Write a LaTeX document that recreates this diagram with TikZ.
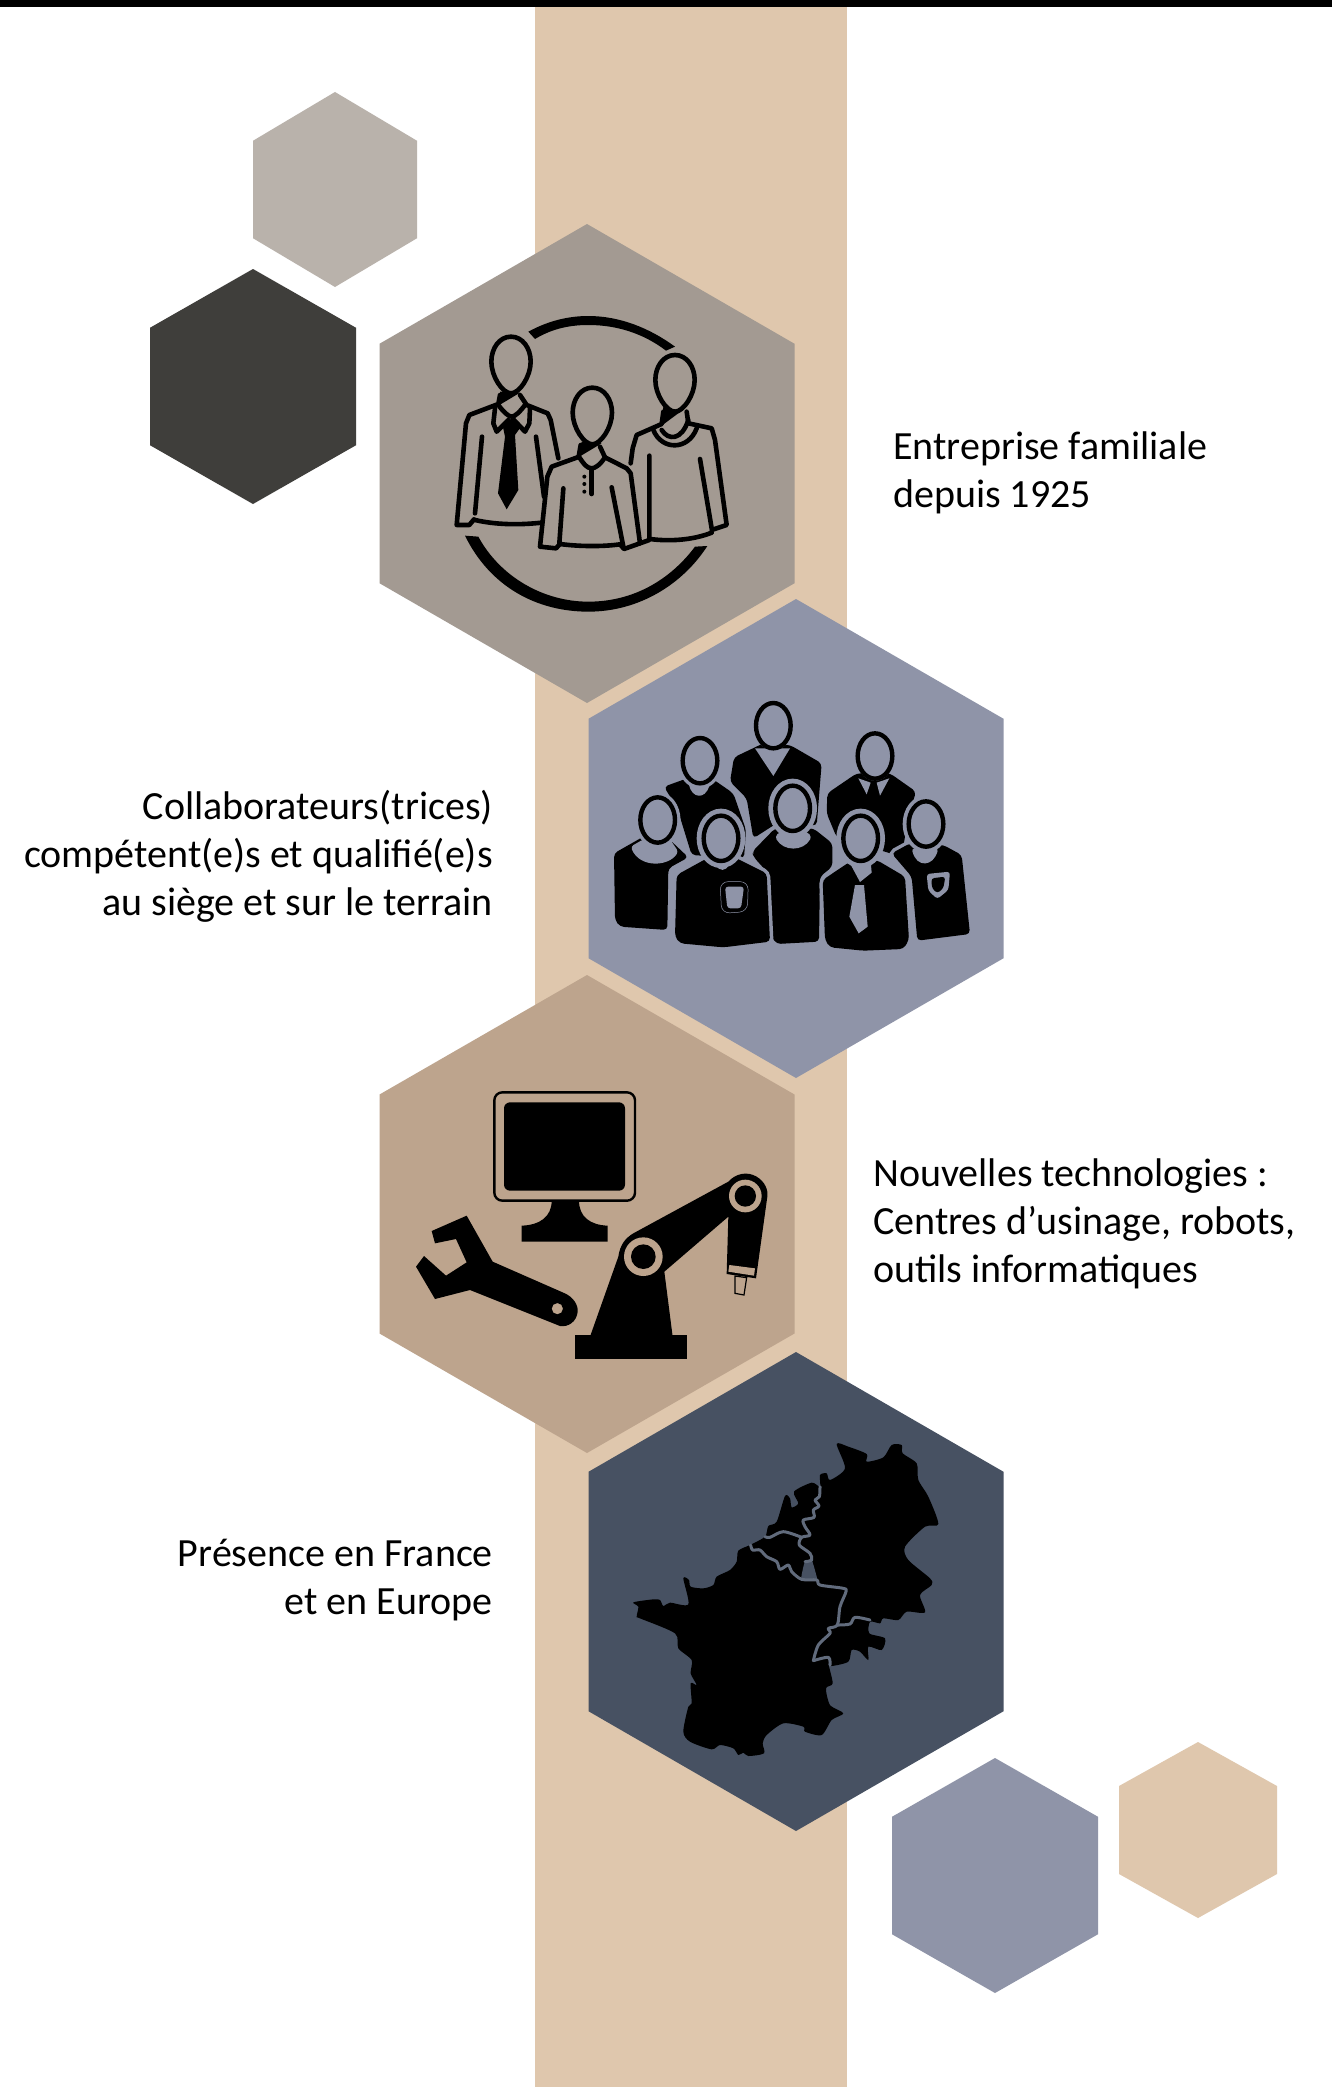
\documentclass[tikz,border=0pt]{standalone}
\usepackage{fontspec}
\setmainfont{Carlito}
\definecolor{barc}{HTML}{DFC7AD}
\definecolor{hexa}{HTML}{A39A92}
\definecolor{hexb}{HTML}{8F94A8}
\definecolor{hexc}{HTML}{BDA48D}
\definecolor{hexd}{HTML}{475162}
\definecolor{hexe}{HTML}{B9B2AB}
\definecolor{hexf}{HTML}{3F3E3B}
\definecolor{mapline}{HTML}{616B7C}
\newcommand{\hexshape}[5]{% cx, top, bottom, halfwidth, colour
  \fill[#5] (#1,#2) -- ({#1+#4},{#2+(#3-#2)/4}) -- ({#1+#4},{#3-(#3-#2)/4}) -- (#1,#3)
    -- ({#1-#4},{#3-(#3-#2)/4}) -- ({#1-#4},{#2+(#3-#2)/4}) -- cycle;}
\newcommand{\egghead}[2]{%
  \draw[outl,fill=hexa,shift={(#1,#2)}] (0,-85) .. controls (35,-85) and (59,-50) .. (59,-10)
    .. controls (59,35) and (25,85) .. (0,85) .. controls (-25,85) and (-59,35) .. (-59,-10)
    .. controls (-59,-50) and (-35,-85) .. (0,-85) -- cycle;}
\newcommand{\ovalhead}[3]{% cx cy halo
  \draw[hexb,line width=#3pt] (#1,#2) ellipse [x radius=52,y radius=68];
  \draw[black,line width=4.4pt,fill=hexb] (#1,#2) ellipse [x radius=52,y radius=68];}
\tikzset{
  x=1pt,y=-1pt,
  outl/.style={draw=black,line width=4.6pt,line cap=round,line join=round},
  body/.style={fill=black,rounded corners=4pt,preaction={draw=hexb,line width=7pt}},
  gapfill/.style={fill=hexb,rounded corners=3pt},
  txtl/.style={anchor=base west,font=\fontsize{40}{48}\selectfont,text=black,inner sep=0pt},
  txtr/.style={anchor=base east,font=\fontsize{40}{48}\selectfont,text=black,inner sep=0pt},
}
\begin{document}
\begin{tikzpicture}
\useasboundingbox (0,0) rectangle (1332,2087);
\fill[white] (0,0) rectangle (1332,2087);
\fill[barc] (535,0) rectangle (847,2087);
\fill[black] (0,0) rectangle (1332,7);
\hexshape{335}{92}{287}{82}{hexe}
\hexshape{253}{269}{504}{103}{hexf}
\hexshape{587}{224}{703}{207.5}{hexa}
\hexshape{796}{599}{1078}{207.5}{hexb}
\hexshape{587}{975}{1453}{207.5}{hexc}
\hexshape{796}{1352}{1831}{207.5}{hexd}
\hexshape{995}{1758}{1993}{103}{hexb}
\hexshape{1198}{1742}{1918}{79}{barc}

% ---------- icon 1
\begin{scope}[shift={(420,280)},scale=1/3]
\fill (325,155) .. controls (380,125) and (440,108) .. (505,108) .. controls (600,108) and (690,145) .. (765,200)
  -- (738,212) .. controls (670,160) and (590,135) .. (505,135) .. controls (440,135) and (390,150) .. (345,177) -- cycle;
\fill (135,767) .. controls (210,920) and (350,995) .. (505,995) .. controls (660,995) and (790,910) .. (862,798)
  -- (825,800) .. controls (750,900) and (640,965) .. (505,965) .. controls (370,965) and (240,890) .. (175,770) -- cycle;
% person 1
\fill (240,335) -- (300,338) -- (240,374) -- cycle;
\draw[outl] (240,345) -- (235,372) -- (148,405) -- (138,430) -- (110,735) -- (148,735) -- (162,718);
\draw[outl] (300,345) -- (320,375) -- (383,400) -- (392,420) -- (415,535);
\draw[outl] (165,720) .. controls (230,735) and (300,735) .. (365,728);
\draw[outl] (186,470) -- (165,700);
\draw[outl] (348,470) -- (372,650);
\draw[outl] (235,375) .. controls (250,395) and (265,410) .. (275,410) .. controls (285,410) and (300,395) .. (315,375);
\draw[outl] (225,385) -- (220,430) -- (230,455) -- (265,420);
\draw[outl] (330,385) -- (328,430) -- (315,455) -- (282,420);
\fill (248,437) -- (275,415) -- (305,437) -- (285,465) -- (295,630) -- (260,688) -- (234,640) -- (255,470) -- cycle;
\egghead{273}{255}
% person 3 (behind)
\fill (730,380) -- (795,385) -- (725,437) -- cycle;
\draw[outl] (730,395) -- (725,432) -- (650,465) -- (638,505) -- (632,550);
\draw[outl] (800,395) -- (805,430) -- (875,445) -- (885,480) -- (920,735) -- (875,750);
\draw[outl] (690,777) .. controls (750,785) and (820,780) .. (875,758);
\draw[outl] (688,527) -- (688,780) -- (660,790);
\draw[outl] (840,537) -- (875,745);
\draw[outl] (700,450) .. controls (725,512) and (805,512) .. (830,445);
\draw[outl] (725,450) .. controls (745,482) and (785,482) .. (805,420);
\egghead{765}{310}
% person 2
\draw[outl,fill=hexa] (478,530) -- (395,560) -- (382,590) -- (360,800) -- (408,805) -- (420,792)
  .. controls (480,800) and (550,800) .. (600,793) -- (612,807) -- (660,790) -- (632,580) -- (620,565) -- (555,532) .. controls (540,555) and (525,565) .. (515,565) .. controls (500,565) and (490,550) .. (478,532) -- cycle;
\fill (485,485) -- (545,490) -- (475,532) -- cycle;
\draw[outl] (482,495) -- (476,530);
\draw[outl] (540,500) -- (555,532);
\draw[outl] (430,625) -- (418,790);
\draw[outl] (575,622) -- (610,800);
\draw[outl] (515,565) -- (515,642);
\fill (493,590) circle [radius=6] (493,612) circle [radius=6] (493,635) circle [radius=6];
\egghead{517}{408}
\end{scope}

% ---------- icon 2
\begin{scope}[shift={(590,680)},scale=1/3]
% back row
\fill[black,rounded corners=4pt] (520,190) -- (432,232) -- (420,305) -- (470,355) -- (490,475) -- (560,430) -- (680,437) -- (695,250) -- (600,195) -- cycle;
\fill[hexb] (495,205) -- (600,205) -- (550,288) -- cycle;
\ovalhead{550}{137}{4}
\path[body] (222,320) -- (300,292) -- (365,295) -- (430,340) -- (468,450) -- (462,535) -- (305,525) -- (262,385) -- cycle;
\fill[gapfill] (295,305) .. controls (305,355) and (345,360) .. (360,310) -- cycle;
\ovalhead{330}{242}{11}
\path[body] (712,340) -- (800,280) -- (900,280) -- (978,335) -- (955,410) -- (935,530) -- (740,472) -- (710,400) -- cycle;
\fill[hexb] (805,295) -- (830,343) -- (842,308) -- cycle (860,308) -- (870,347) -- (898,295) -- cycle;
\ovalhead{855}{228}{4}
% front-left
\path[body] (72,520) -- (160,470) -- (240,480) -- (295,532) -- (235,565) -- (232,750) -- (90,740) -- (75,720) -- cycle;
\fill[gapfill] (122,500) .. controls (150,565) and (235,560) .. (265,515) -- (240,478) -- (160,478) -- cycle;
\ovalhead{203}{420}{11}
% right
\path[body] (905,520) -- (960,490) -- (1060,495) -- (1115,525) -- (1140,762) -- (982,782) -- (965,590) -- cycle;
\fill[gapfill] (965,505) .. controls (980,565) and (1030,560) .. (1045,505) -- cycle;
\fill[gapfill] (1010,582) -- (1080,575) -- (1075,630) -- (1042,657) -- (1015,632) -- cycle;
\fill[black,rounded corners=3pt] (1024,595) -- (1066,590) -- (1060,625) -- (1042,640) -- (1026,625) -- cycle;
\ovalhead{1008}{432}{12}
% front centre
\path[body] (487,515) -- (555,445) -- (670,445) -- (727,490) -- (727,560) -- (690,590) -- (687,785) -- (560,792) -- (545,770) -- (535,580) -- (490,530) -- cycle;
\fill[gapfill] (555,470) .. controls (580,515) and (640,515) .. (665,470) -- (650,455) -- (570,455) -- cycle;
\ovalhead{608}{385}{14}
% front second
\path[body] (260,585) -- (360,530) -- (430,530) -- (530,580) -- (540,785) -- (400,802) -- (270,790) -- (255,770) -- cycle;
\fill[gapfill] (375,545) .. controls (385,575) and (410,575) .. (418,545) -- cycle;
\draw[hexb,line width=.5pt,rounded corners=8pt] (390,605) -- (475,605) -- (472,695) -- (395,700) -- cycle;
\fill[gapfill] (405,620) -- (462,620) -- (453,685) -- (412,685) -- cycle;
\ovalhead{393}{475}{14}
% front fourth
\path[body] (698,600) -- (780,545) -- (860,540) -- (945,590) -- (957,780) -- (940,807) -- (820,812) -- (720,802) -- (705,780) -- cycle;
\fill[hexb] (780,550) -- (810,606) -- (845,578) -- (842,545) -- cycle;
\fill[hexb] (795,615) -- (822,615) -- (833,740) -- (806,760) -- (778,710) -- cycle;
\ovalhead{812}{475}{14}
\end{scope}

% ---------- icon 3
\begin{scope}[shift={(400,1070)},scale=1/3]
\draw[black,line width=2.4pt,rounded corners=8pt] (283,67) rectangle (705,392);
\fill[black,rounded corners=6pt] (312,97) rectangle (675,362);
\fill (455,392) -- (537,392) .. controls (537,440) and (570,465) .. (623,467) -- (623,515) -- (365,515) -- (365,467)
  .. controls (420,465) and (455,440) .. (455,392) -- cycle;
\fill[even odd rule] (95,483) -- (200,437) -- (278,575) -- (490,668) .. controls (520,680) and (535,705) .. (533,725)
  .. controls (530,755) and (505,772) .. (480,768) -- (210,660) -- (105,687) -- (48,590) -- (72,558) -- (138,617) -- (200,577) -- (168,507) -- (105,520) -- cycle
  (472,716) circle [radius=17];
\fill (525,795) rectangle (860,868);
\fill (570,800) -- (655,560) .. controls (660,525) and (675,505) .. (700,490) -- (985,335)
  .. controls (1005,312) and (1040,302) .. (1070,320) .. controls (1095,335) and (1105,360) .. (1102,380)
  -- (1068,625) -- (980,612) -- (985,440) -- (793,605) -- (818,800) -- cycle;
\fill[hexc] (730,560) circle [radius=58] (1036,378) circle [radius=49];
\fill[black] (730,560) circle [radius=37] (1036,378) circle [radius=32];
\fill[hexc] (988,585) -- (1065,595) -- (1062,617) -- (985,605) -- cycle;
\draw[black,line width=1.2pt,fill=hexc] (1005,618) -- (1040,623) -- (1032,675) -- (1005,670) -- cycle;
\end{scope}

% ---------- icon 4
\begin{scope}[shift={(620,1420)},scale=1/3]
\fill[black] plot[smooth cycle,tension=.45] coordinates {
(40,547)(100,538)(120,540)(130,558)(150,548)(205,553)(190,475)(207,480)(212,500)(250,505)(280,495)(290,470)(330,450)(350,425)(355,392)(390,375)(435,350)(445,318)(470,305)(495,228)(510,235)(515,262)(535,250)(522,215)(575,188)(600,200)(600,165)(620,160)(630,180)(675,145)(650,72)(685,80)(740,102)(740,125)(790,112)(815,75)(845,75)(848,100)(890,130)(895,180)(925,230)(955,312)(915,320)(855,380)(865,420)(930,475)(935,495)(900,525)(915,577)(860,575)(835,600)(790,595)(780,610)(750,605)(748,640)(795,655)(785,690)(745,680)(745,720)(720,695)(695,690)(685,725)(635,738)(625,730)(638,790)(618,805)(630,855)(670,880)(635,900)(605,945)(555,935)(550,920)(490,910)(440,945)(428,970)(432,1000)(385,1008)(370,998)(355,1005)(340,985)(300,975)(275,988)(210,965)(190,935)(205,860)(215,850)(212,790)(230,795)(212,760)(215,720)(175,685)(165,640)(60,595)(50,590)(55,560)};
\fill[hexd] plot[smooth cycle,tension=.3] coordinates {(555,425)(575,420)(590,470)(590,482)(545,478)(548,450)};
\begin{scope}[mapline,line width=3pt,line cap=round,line join=round]
\draw plot[smooth,tension=.5] coordinates {(435,350)(450,352)(490,335)(545,352)};
\draw plot[smooth,tension=.5] coordinates {(600,200)(598,230)(585,240)(597,258)(580,270)(582,292)(550,300)(555,320)(570,345)(545,352)(538,375)(570,400)(575,420)(555,425)};
\draw plot[smooth,tension=.5] coordinates {(392,375)(398,390)(420,390)(440,410)(470,425)(480,448)(505,435)(515,455)(545,478)(590,480)(600,495)(670,505)(678,515)(660,560)(652,615)(625,625)(630,640)(595,675)(580,722)};
\draw plot[smooth,tension=.5] coordinates {(652,615)(690,612)(705,592)(750,600)};
\draw plot[smooth,tension=.5] coordinates {(580,722)(625,712)(630,735)};
\end{scope}
\end{scope}

% ---------- texts
\node[txtl] (t1a) at (893,459) {Entreprise familiale};
\node[txtl] (t1b) at (893,507) {depuis 1925};
\node[txtr] (t2a) at (493,819) {Collaborateurs(trices)};
\node[txtr] (t2b) at (493,867) {compétent(e)s et qualifié(e)s};
\node[txtr] (t2c) at (493,915) {au siège et sur le terrain};
\node[txtl] (t3a) at (873,1186) {Nouvelles technologies :};
\node[txtl] (t3b) at (873,1234) {Centres d’usinage, robots,};
\node[txtl] (t3c) at (873,1282) {outils informatiques};
\node[txtr] (t4a) at (493,1566) {Présence en France};
\node[txtr] (t4b) at (493,1614) {et en Europe};
\end{tikzpicture}
\end{document}
